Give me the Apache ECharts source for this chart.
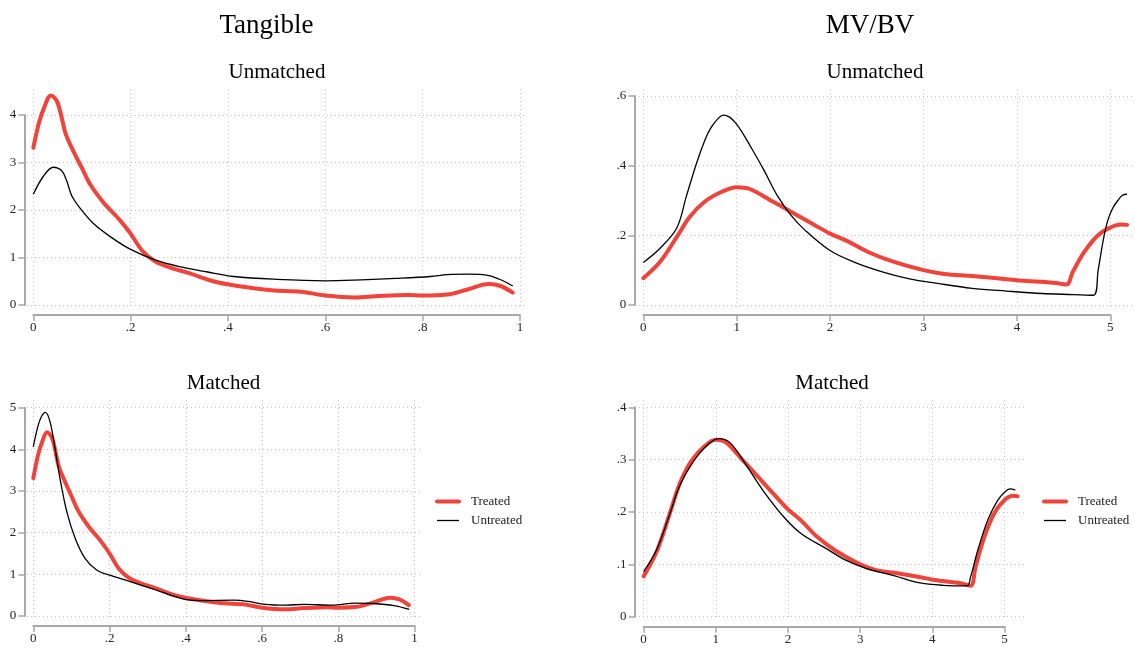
<!DOCTYPE html>
<html>
<head>
<meta charset="utf-8">
<title>Tangible / MV/BV kernel densities</title>
<script src="https://cdn.jsdelivr.net/npm/echarts@6/dist/echarts.min.js"></script>
<style>
    html, body { margin: 0; padding: 0; background: #fff; }
    #chart { width: 1135px; height: 649px; }
</style>
</head>
<body>
<div id="chart"></div>
<script>
/* data start */
// Tangible - treated (same curve in unmatched and matched panels)
const tangTreatedX = [0, 0.012, 0.022, 0.036, 0.048, 0.057, 0.066, 0.078, 0.1, 0.118, 0.144, 0.165, 0.18, 0.2, 0.224, 0.25, 0.28, 0.32, 0.37, 0.42, 0.49, 0.55, 0.6, 0.66, 0.71, 0.77, 0.8, 0.85, 0.89, 0.936, 0.96, 0.985]
const tangTreatedY = [3.31, 3.85, 4.15, 4.41, 4.3, 4.0, 3.62, 3.33, 2.88, 2.52, 2.16, 1.93, 1.76, 1.5, 1.14, 0.92, 0.79, 0.67, 0.5, 0.4, 0.31, 0.28, 0.2, 0.16, 0.19, 0.21, 0.2, 0.22, 0.32, 0.44, 0.4, 0.26]
// Tangible - untreated, unmatched
const tangRawX = [0, 0.02, 0.041, 0.058, 0.068, 0.079, 0.096, 0.123, 0.158, 0.2, 0.25, 0.3, 0.356, 0.412, 0.5, 0.6, 0.674, 0.745, 0.816, 0.851, 0.894, 0.936, 0.965, 0.985]
const tangRawY = [2.33, 2.7, 2.9, 2.83, 2.63, 2.3, 2.04, 1.72, 1.44, 1.17, 0.95, 0.81, 0.7, 0.6, 0.54, 0.51, 0.53, 0.56, 0.6, 0.64, 0.65, 0.62, 0.51, 0.4]
// Tangible - untreated, matched
const tangMatchX = [0, 0.012, 0.022, 0.032, 0.044, 0.057, 0.07, 0.088, 0.11, 0.136, 0.167, 0.2, 0.256, 0.32, 0.392, 0.437, 0.528, 0.564, 0.608, 0.662, 0.71, 0.783, 0.846, 0.89, 0.946, 0.986]
const tangMatchY = [4.06, 4.55, 4.8, 4.89, 4.66, 4.02, 3.3, 2.5, 1.86, 1.38, 1.1, 0.98, 0.82, 0.63, 0.41, 0.37, 0.38, 0.35, 0.28, 0.26, 0.28, 0.26, 0.31, 0.3, 0.25, 0.16]

// MV/BV - treated
const mvbvTreatedX = [0, 0.18, 0.36, 0.5, 0.66, 0.84, 1.0, 1.14, 1.36, 1.58, 1.81, 2.0, 2.18, 2.4, 2.66, 3.0, 3.22, 3.52, 3.89, 4.03, 4.39, 4.53, 4.6, 4.71, 4.82, 4.9, 4.98, 5.05, 5.12, 5.18]
const mvbvTreatedY = [0.077, 0.124, 0.196, 0.254, 0.297, 0.325, 0.338, 0.333, 0.301, 0.268, 0.233, 0.205, 0.184, 0.153, 0.126, 0.1, 0.089, 0.083, 0.074, 0.07, 0.064, 0.059, 0.096, 0.148, 0.187, 0.207, 0.22, 0.228, 0.231, 0.23]
// MV/BV - untreated, unmatched
const mvbvRawX = [0, 0.18, 0.36, 0.46, 0.57, 0.66, 0.72, 0.8, 0.86, 0.92, 0.99, 1.06, 1.14, 1.29, 1.43, 1.58, 1.73, 1.99, 2.25, 2.55, 2.85, 3.15, 3.52, 3.89, 4.27, 4.6, 4.82, 4.87, 4.925, 4.97, 5.02, 5.08, 5.13, 5.18]
const mvbvRawY = [0.122, 0.163, 0.222, 0.311, 0.407, 0.474, 0.507, 0.535, 0.545, 0.54, 0.522, 0.495, 0.459, 0.388, 0.316, 0.258, 0.215, 0.158, 0.124, 0.096, 0.075, 0.062, 0.048, 0.04, 0.033, 0.03, 0.028, 0.1, 0.187, 0.24, 0.275, 0.3, 0.315, 0.318]
// MV/BV - untreated, matched
const mvbvMatchX = [0, 0.18, 0.36, 0.5, 0.66, 0.84, 1.04, 1.2, 1.41, 1.65, 1.94, 2.18, 2.52, 2.8, 3.09, 3.48, 3.81, 4.15, 4.48, 4.53, 4.63, 4.77, 4.91, 5.02, 5.08, 5.15]
const mvbvMatchY = [0.086, 0.128, 0.195, 0.25, 0.29, 0.322, 0.34, 0.332, 0.292, 0.242, 0.191, 0.159, 0.131, 0.108, 0.092, 0.078, 0.065, 0.06, 0.059, 0.076, 0.127, 0.185, 0.223, 0.24, 0.244, 0.242]

// tick labels
const tangXTicks = [0, 0.2, 0.4, 0.6, 0.8, 1]
const tangYTicksRaw = [0, 1, 2, 3, 4]
const tangYTicksMatch = [0, 1, 2, 3, 4, 5]
const mvbvXTicks = [0, 1, 2, 3, 4, 5]
const mvbvYTicksRaw = [0, 0.2, 0.4, 0.6]
const mvbvYTicksMatch = [0, 0.1, 0.2, 0.3, 0.4]
/* data end */

const FONT = '"Liberation Serif", "Times New Roman", serif'
const RED = '#f2433a'
const AXIS_GREY = '#a8a8a8'

function pairs(xs, ys) {
    return xs.map((x, i) => [x, ys[i]])
}

// stata style: .2 instead of 0.2
function stataLabel(v) {
    if (v === 0) return '0'
    return String(Math.round(v * 100) / 100).replace(/^0\./, '.')
}

// box = pixel area spanned by the tick range, plot = pixel area of the dotted grid
const panels = [
    {
        box: {l: 33.3, r: 520, t: 115, b: 305}, plot: {l: 27, r: 527, t: 89, b: 309},
        xTicks: tangXTicks, yTicks: tangYTicksRaw,
        treated: pairs(tangTreatedX, tangTreatedY), untreated: pairs(tangRawX, tangRawY)
    },
    {
        box: {l: 643.3, r: 1110.3, t: 96, b: 305}, plot: {l: 639, r: 1132, t: 90, b: 309},
        xTicks: mvbvXTicks, yTicks: mvbvYTicksRaw,
        treated: pairs(mvbvTreatedX, mvbvTreatedY), untreated: pairs(mvbvRawX, mvbvRawY)
    },
    {
        box: {l: 33.3, r: 414.6, t: 407.7, b: 616}, plot: {l: 27, r: 421.5, t: 400, b: 620},
        xTicks: tangXTicks, yTicks: tangYTicksMatch,
        treated: pairs(tangTreatedX, tangTreatedY), untreated: pairs(tangMatchX, tangMatchY)
    },
    {
        box: {l: 643.6, r: 1004.5, t: 407.3, b: 616.7}, plot: {l: 639, r: 1027, t: 400, b: 620},
        xTicks: mvbvXTicks, yTicks: mvbvYTicksMatch,
        treated: pairs(mvbvTreatedX, mvbvTreatedY), untreated: pairs(mvbvMatchX, mvbvMatchY)
    }
]

const grid = [], xAxis = [], yAxis = [], series = []

panels.forEach((p, i) => {
    const x0 = p.xTicks[0], x1 = p.xTicks[p.xTicks.length - 1]
    const y0 = p.yTicks[0], y1 = p.yTicks[p.yTicks.length - 1]
    const kx = (x1 - x0) / (p.box.r - p.box.l)
    const ky = (y1 - y0) / (p.box.b - p.box.t)

    // plot region (dotted grid + curves)
    grid.push({
        left: p.plot.l, top: p.plot.t,
        width: p.plot.r - p.plot.l, height: p.plot.b - p.plot.t,
        outerBoundsMode: 'none'
    })
    // axis region (axis lines, ticks, labels)
    grid.push({
        left: p.box.l, top: p.box.t,
        width: p.box.r - p.box.l, height: p.box.b - p.box.t,
        outerBoundsMode: 'none'
    })

    const dotted = {show: true, lineStyle: {color: '#c2c2c2', width: 1, type: [1, 3]}}

    xAxis.push({
        gridIndex: 2 * i, type: 'value',
        min: x0 - (p.box.l - p.plot.l) * kx,
        max: x1 + (p.plot.r - p.box.r) * kx,
        axisLine: {show: false},
        axisTick: {show: false, customValues: p.xTicks},
        axisLabel: {show: false, customValues: p.xTicks},
        splitLine: dotted
    })
    yAxis.push({
        gridIndex: 2 * i, type: 'value',
        min: y0 - (p.plot.b - p.box.b) * ky,
        max: y1 + (p.box.t - p.plot.t) * ky,
        axisLine: {show: false},
        axisTick: {show: false, customValues: p.yTicks},
        axisLabel: {show: false, customValues: p.yTicks},
        splitLine: dotted
    })

    const labelStyle = {fontFamily: FONT, fontSize: 13, color: '#222', formatter: stataLabel}

    xAxis.push({
        gridIndex: 2 * i + 1, type: 'value', min: x0, max: x1, offset: 10,
        axisLine: {show: true, onZero: false, lineStyle: {color: AXIS_GREY, width: 2}},
        axisTick: {show: true, length: 6, customValues: p.xTicks, lineStyle: {color: AXIS_GREY, width: 1.5}},
        axisLabel: Object.assign({margin: 6, customValues: p.xTicks}, labelStyle),
        splitLine: {show: false}
    })
    yAxis.push({
        gridIndex: 2 * i + 1, type: 'value', min: y0, max: y1, offset: 9,
        axisLine: {show: true, onZero: false, lineStyle: {color: AXIS_GREY, width: 2}},
        axisTick: {show: true, length: 6, customValues: p.yTicks, lineStyle: {color: AXIS_GREY, width: 1.5}},
        axisLabel: Object.assign({margin: 8, customValues: p.yTicks}, labelStyle),
        splitLine: {show: false}
    })

    series.push({
        name: 'Treated', type: 'line', xAxisIndex: 2 * i, yAxisIndex: 2 * i,
        data: p.treated, symbol: 'none', smooth: 0.35,
        lineStyle: {color: RED, width: 4, join: 'round', cap: 'round'}, itemStyle: {color: RED}, z: 2
    })
    series.push({
        name: 'Untreated', type: 'line', xAxisIndex: 2 * i, yAxisIndex: 2 * i,
        data: p.untreated, symbol: 'none', smooth: 0.35,
        lineStyle: {color: '#000', width: 1.3, join: 'round'}, itemStyle: {color: '#000'}, z: 3
    })
})

function legendAt(left, top) {
    return {
        orient: 'vertical', left: left, top: top, padding: 0,
        itemWidth: 22, itemHeight: 14, itemGap: 6,
        data: [
            {name: 'Treated', itemStyle: {opacity: 0}, lineStyle: {color: RED, width: 4}},
            {name: 'Untreated', itemStyle: {opacity: 0}, lineStyle: {color: '#000', width: 1.3}}
        ],
        textStyle: {fontFamily: FONT, fontSize: 13, color: '#222', padding: [0, 0, 0, 7]}
    }
}

function titleText(text, x, y, size) {
    return {
        type: 'text', x: x, y: y, silent: true,
        style: {text: text, fontFamily: FONT, fontSize: size, fill: '#000', align: 'center', verticalAlign: 'middle'}
    }
}

const option = {
    animation: false,
    backgroundColor: '#fff',
    grid: grid,
    xAxis: xAxis,
    yAxis: yAxis,
    series: series,
    legend: [legendAt(435, 495), legendAt(1042, 495)],
    graphic: [
        titleText('Tangible', 266.5, 26, 27),
        titleText('MV/BV', 870, 26, 27),
        titleText('Unmatched', 277, 72, 21),
        titleText('Unmatched', 875, 72, 21),
        titleText('Matched', 223.5, 383, 21),
        titleText('Matched', 832, 383, 21)
    ]
}

const chart = echarts.init(document.getElementById('chart'))
chart.setOption(option)

window.onresize = function () {
    chart.resize()
}
</script>
</body>
</html>
